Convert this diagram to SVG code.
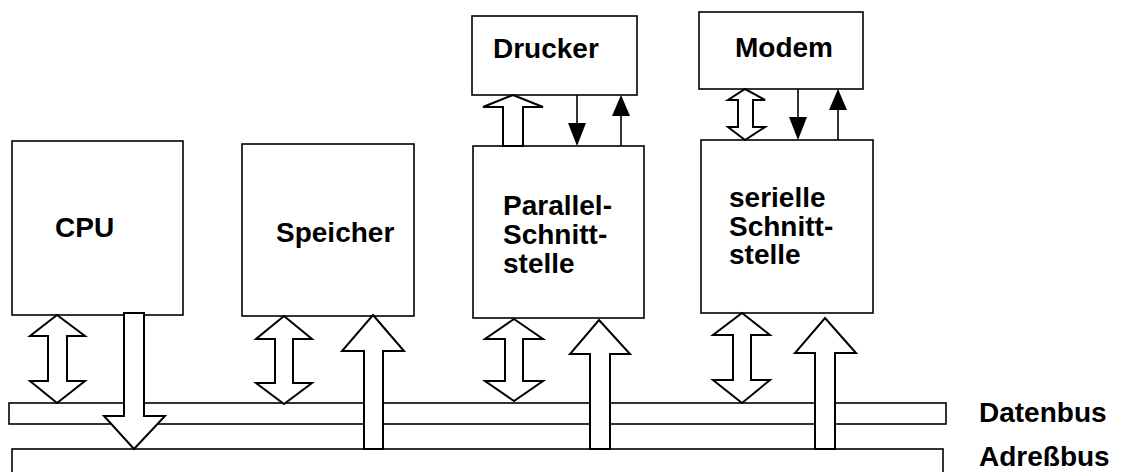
<svg xmlns="http://www.w3.org/2000/svg" width="1121" height="472" viewBox="0 0 1121 472">
<style>
.box{fill:#fff;stroke:#000;stroke-width:1.6}
.bus{fill:#fff;stroke:#000;stroke-width:1.6}
.ar{fill:#fff;stroke:#000;stroke-width:2;stroke-linejoin:miter}
.ln{stroke:#000;stroke-width:1.6;fill:none}
.hd{fill:#000;stroke:none}
text{font-family:"Liberation Sans",Arial,sans-serif;font-weight:bold;font-size:28px;fill:#000}
</style>
<rect width="1121" height="472" fill="#fff"/>
<g id="datenbus"><rect class="bus" x="9" y="403" width="937" height="21"/><text x="979" y="422">Datenbus</text></g>
<g id="adressbus"><rect class="bus" x="12" y="449" width="931" height="30"/><text x="979" y="466">Adreßbus</text></g>
<g id="cpu"><rect class="box" x="12" y="141" width="171" height="174"/><text x="55" y="237">CPU</text></g>
<g id="speicher"><rect class="box" x="242" y="144" width="172" height="172"/><text x="276" y="242">Speicher</text></g>
<g id="parallel"><rect class="box" x="473" y="146" width="171" height="172"/><text x="503" y="215">Parallel-</text><text x="503" y="244">Schnitt-</text><text x="503" y="273">stelle</text></g>
<g id="seriell"><rect class="box" x="701" y="140" width="172" height="173"/><text x="729" y="207">serielle</text><text x="729" y="236">Schnitt-</text><text x="729" y="264">stelle</text></g>
<g id="drucker"><rect class="box" x="472" y="16" width="165" height="79"/><text x="493" y="58">Drucker</text></g>
<g id="modem"><rect class="box" x="699" y="12" width="164" height="77"/><text x="735" y="57">Modem</text></g>
<g id="connectors">
<polygon class="ar" points="57,315 85,336 67,336 67,381 85,381 57,403 30,381 48,381 48,336 30,336"/>
<polygon class="ar" points="124,313 144,313 144,416 165,416 134,449 104,416 124,416"/>
<polygon class="ar" points="284,316 312,339 293,339 293,383 312,383 284,404 256,383 275,383 275,339 256,339"/>
<polygon class="ar" points="373,315 404,351 383,351 383,449 364,449 364,351 342,351"/>
<polygon class="ar" points="514,319 543,339 523,339 523,381 543,381 514,401 485,381 505,381 505,339 485,339"/>
<polygon class="ar" points="599,320 630,354 610,354 610,449 590,449 590,354 570,354"/>
<polygon class="ar" points="742,313 770,335 751,335 751,380 770,380 742,403 713,380 733,380 733,335 713,335"/>
<polygon class="ar" points="825,318 856,353 835,353 835,449 815,449 815,353 795,353"/>
<polygon class="ar" points="513,95 543,107 523,107 523,146 503,146 503,107 483,107"/>
<polygon class="ar" points="745,89 765,100 753,100 753,127 765,127 745,140 728,127 738,127 738,100 728,100"/>
<line class="ln" x1="577" y1="95" x2="577" y2="124"/>
<polygon class="hd" points="568,123 586,123 577,146"/>
<line class="ln" x1="621" y1="115" x2="621" y2="146"/>
<polygon class="hd" points="612,116 630,116 621,95"/>
<line class="ln" x1="798" y1="89" x2="798" y2="118"/>
<polygon class="hd" points="789,117 807,117 798,140"/>
<line class="ln" x1="838" y1="109" x2="838" y2="140"/>
<polygon class="hd" points="829,110 847,110 838,89"/>
</g>
</svg>
